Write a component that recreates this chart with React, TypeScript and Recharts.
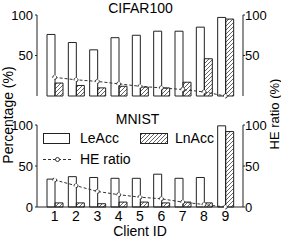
import { Bar, ComposedChart, Line, XAxis, YAxis } from 'recharts'

const clients = ['1', '2', '3', '4', '5', '6', '7', '8', '9']
const cifarLeAcc = [76, 66, 57, 72, 75, 80, 80, 85, 97]
const cifarLnAcc = [16, 13, 10, 12, 11, 10, 17, 46, 95]
const cifarHeRatio = [23, 20, 18, 15, 12, 10, 8, 5, 0]
const mnistLeAcc = [34, 37, 36, 35, 35, 40, 35, 36, 99]
const mnistLnAcc = [5, 5, 4, 6, 6, 5, 6, 5, 92]
const mnistHeRatio = [33, 26, 19, 15, 12, 10, 6, 3, 0]
const yTicks = [0, 50, 100]

const FONT = '"Liberation Sans", Arial, sans-serif'
const INK = '#222'

function buildRows(le: number[], ln: number[], he: number[]) {
  return clients.map((id, i) => ({ id, le: le[i], ln: ln[i], he: he[i] }))
}

function Hatch({ id }: { id: string }) {
  return (
    <defs>
      <pattern id={id} patternUnits="userSpaceOnUse" width={4} height={4}>
        <path d="M-1,1 l2,-2 M0,4 l4,-4 M3,5 l2,-2" stroke={INK} strokeWidth={0.7} />
      </pattern>
    </defs>
  )
}

function Panel({
  rows,
  hatchId,
  height,
  bottom,
  showX
}: {
  rows: ReturnType<typeof buildRows>
  hatchId: string
  height: number
  bottom: number
  showX: boolean
}) {
  const tick = { fontSize: 13, fill: '#000', fontFamily: FONT }
  return (
    <ComposedChart
      width={281}
      height={height}
      data={rows}
      margin={{ top: 15, right: 0, bottom, left: 0 }}
      barGap={0}
    >
      <Hatch id={hatchId} />
      <XAxis
        dataKey="id"
        height={showX ? 35 : 0}
        tick={showX ? { ...tick, fontSize: 14 } : false}
        tickLine={false}
        tickSize={2}
        stroke={INK}
        padding={{ left: 7, right: 7 }}
        interval={0}
        label={
          showX
            ? { value: 'Client ID', position: 'insideBottom', offset: 6, fontSize: 14, fill: '#000', fontFamily: FONT }
            : undefined
        }
      />
      <XAxis xAxisId="top" dataKey="id" orientation="top" height={0} tick={false} tickLine={false} stroke="#777" />
      <YAxis yAxisId="l" width={37} domain={[0, 100]} ticks={yTicks} tick={tick} tickSize={2} stroke={INK} />
      <YAxis
        yAxisId="r"
        orientation="right"
        width={38}
        domain={[0, 100]}
        ticks={yTicks}
        tick={{ ...tick, dx: -2 }}
        tickSize={2}
        stroke={INK}
      />
      <Bar yAxisId="l" dataKey="le" fill="#fff" stroke={INK} strokeWidth={1} barSize={8} isAnimationActive={false} />
      <Bar
        yAxisId="l"
        dataKey="ln"
        fill={`url(#${hatchId})`}
        stroke={INK}
        strokeWidth={1}
        barSize={8}
        isAnimationActive={false}
      />
      <Line
        yAxisId="r"
        dataKey="he"
        type="linear"
        stroke="#333"
        strokeWidth={1}
        strokeDasharray="3 2"
        dot={{ r: 2, fill: '#fff', stroke: '#333', strokeWidth: 1 }}
        isAnimationActive={false}
      />
    </ComposedChart>
  )
}

function Legend() {
  const text = { position: 'absolute' as const, fontSize: 14, lineHeight: '14px', color: '#000' }
  return (
    <>
      <svg style={{ position: 'absolute', left: 0, top: 0 }} width={281} height={242}>
        <defs>
          <pattern id="legend-hatch" patternUnits="userSpaceOnUse" width={4} height={4}>
            <path d="M-1,1 l2,-2 M0,4 l4,-4 M3,5 l2,-2" stroke={INK} strokeWidth={0.7} />
          </pattern>
        </defs>
        <rect x={43.5} y={133.5} width={26} height={10} fill="#fff" stroke={INK} />
        <rect x={140.5} y={133.5} width={27} height={10} fill="url(#legend-hatch)" stroke={INK} />
        <line x1={43} y1={159.5} x2={72} y2={159.5} stroke="#333" strokeDasharray="3 2" />
        <circle cx={57.5} cy={159.5} r={2} fill="#fff" stroke="#333" />
      </svg>
      <div style={{ ...text, left: 80, top: 131 }}>LeAcc</div>
      <div style={{ ...text, left: 175, top: 131 }}>LnAcc</div>
      <div style={{ ...text, left: 80, top: 152 }}>HE ratio</div>
    </>
  )
}

export default function App() {
  const cifarRows = buildRows(cifarLeAcc, cifarLnAcc, cifarHeRatio)
  const mnistRows = buildRows(mnistLeAcc, mnistLnAcc, mnistHeRatio)
  const title = {
    position: 'absolute' as const,
    width: 281,
    left: 0,
    textAlign: 'center' as const,
    fontSize: 14,
    lineHeight: '14px'
  }
  const axisLabel = {
    position: 'absolute' as const,
    width: 160,
    textAlign: 'center' as const,
    fontSize: 14,
    lineHeight: '14px',
    transform: 'rotate(-90deg)'
  }
  return (
    <div style={{ position: 'relative', width: 281, height: 242, fontFamily: FONT, background: '#fff' }}>
      <style>{'body{margin:0}'}</style>
      <div style={{ ...title, top: 1 }}>CIFAR100</div>
      <div style={{ ...title, top: 112, left: -3 }}>MNIST</div>
      <div style={{ position: 'absolute', left: 0, top: 0 }}>
        <Panel rows={cifarRows} hatchId="hatch-cifar" height={100} bottom={4} showX={false} />
      </div>
      <div style={{ position: 'absolute', left: 0, top: 110 }}>
        <Panel rows={mnistRows} hatchId="hatch-mnist" height={132} bottom={0} showX />
      </div>
      <Legend />
      <div style={{ ...axisLabel, left: 8 - 80, top: 115 - 7 }}>Percentage (%)</div>
      <div style={{ ...axisLabel, fontSize: 13, left: 275 - 80, top: 114 - 7 }}>HE ratio (%)</div>
    </div>
  )
}
